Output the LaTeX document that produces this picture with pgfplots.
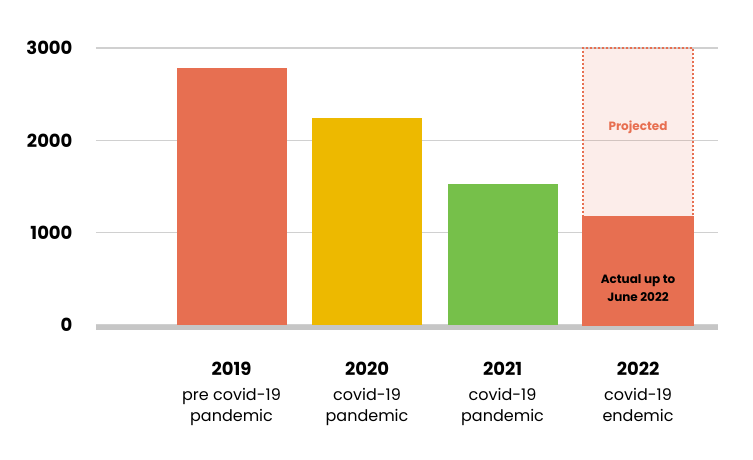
\documentclass[border=0pt]{standalone}
\usepackage{pgfplots}
\pgfplotsset{compat=1.18}
\usepackage{fontspec}
\setmainfont{Poppins}
\definecolor{cOrange}{RGB}{231,111,81}
\definecolor{cYellow}{RGB}{237,185,0}
\definecolor{cGreen}{RGB}{118,192,74}
\definecolor{cGrid}{RGB}{208,208,208}
\definecolor{cBase}{RGB}{198,198,198}
\pgfplotsset{mybar/.style={ybar, bar width=110pt, bar shift=0pt, draw=none}}
\begin{document}
\begin{tikzpicture}[x=1pt,y=1pt]
\useasboundingbox (-96,-134) rectangle (657,325);
\begin{axis}[
    at={(0,0)}, anchor=south west,
    scale only axis, width=622pt, height=277pt,
    xmin=-1, xmax=3.59, ymin=0, ymax=3000,
    axis x line=bottom, axis y line=left,
    axis line style={-},
    y axis line style={draw=none},
    x axis line style={cBase, line width=4.5pt, yshift=-2.25pt},
    ytick={0,1000,2000,3000},
    yticklabels={0,1000,2000,3000},
    ymajorgrids, grid style={cGrid, line width=1.3pt},
    xtick={0,1,2,3},
    xticklabels={
      {\textbf{\fontsize{18}{22}\selectfont 2019}\\[4pt]pre covid-19\\pandemic},
      {\textbf{\fontsize{18}{22}\selectfont 2020}\\[4pt]covid-19\\pandemic},
      {\textbf{\fontsize{18}{22}\selectfont 2021}\\[4pt]covid-19\\pandemic},
      {\textbf{\fontsize{18}{22}\selectfont 2022}\\[4pt]covid-19\\endemic}},
    major tick length=0pt,
    xticklabel style={align=center, anchor=north, yshift=-34pt,
      font=\fontsize{16}{21}\selectfont},
    yticklabel style={anchor=east, xshift=-20pt,
      font=\fontsize{18}{22}\selectfont\bfseries},
    clip=false,
]
\addplot[mybar, fill=cOrange] coordinates {(0,2780)};
\addplot[mybar, fill=cYellow] coordinates {(1,2240)};
\addplot[mybar, fill=cGreen] coordinates {(2,1530)};
\addplot[mybar, fill=cOrange, fill opacity=0.12, draw=cOrange, draw opacity=1,
    line width=1.3pt, dash pattern=on 2pt off 2pt] coordinates {(3,3000)};
\addplot[mybar, fill=cOrange, draw=cOrange, line width=1.3pt] coordinates {(3,1170)};
\node[text=cOrange, font=\fontsize{12}{14}\selectfont\bfseries] at (axis cs:3,2140) {Projected};
\node[align=center, font=\fontsize{12}{18}\selectfont\bfseries] at (axis cs:3,400) {Actual up to\\June 2022};
\end{axis}
\end{tikzpicture}
\end{document}
